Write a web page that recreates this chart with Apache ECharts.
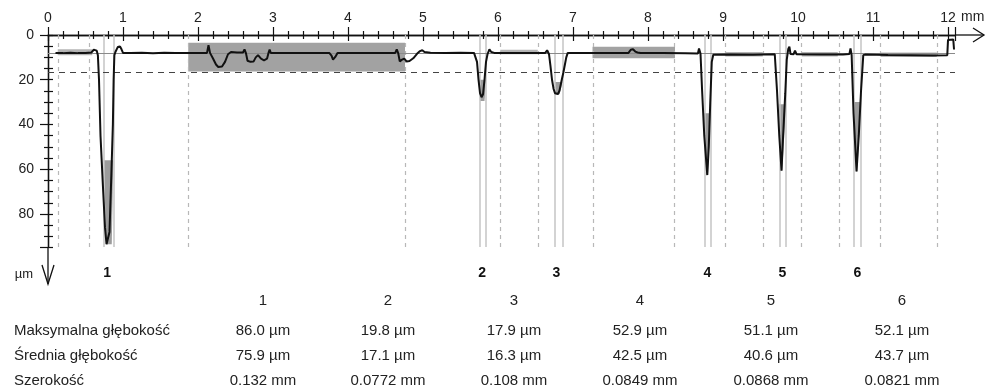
<!DOCTYPE html>
<html>
<head>
<meta charset="utf-8">
<script src="https://cdn.jsdelivr.net/npm/echarts@6/dist/echarts.min.js"></script>
<style>
html,body{margin:0;padding:0;background:#fff;}
#c{width:986px;height:391px;}
</style>
</head>
<body>
<div id="c"></div>
<script>
// ---- data ----
const profile = [
[0.10,8.0],[0.20,8.1],[0.30,7.9],[0.40,8.1],[0.50,8.0],[0.58,7.8],[0.61,6.6],[0.63,6.0],[0.65,7.0],[0.665,9],[0.68,20],[0.70,45],[0.73,66],[0.76,86],[0.78,93.5],[0.80,93.5],[0.82,88],[0.845,62],[0.865,40],[0.875,20],[0.885,9],[0.90,7.5],[0.93,5.4],[0.96,5.1],[0.98,6.4],[1.00,8.0],[1.10,8.1],[1.25,7.9],[1.40,8.2],[1.55,7.9],[1.70,8.1],[1.85,8.0],[2.00,8.1],[2.12,8.0],[2.14,4.6],[2.16,8.0],[2.20,10.5],[2.24,13.2],[2.27,14.3],[2.32,14.1],[2.36,12.0],[2.40,8.6],[2.44,7.6],[2.52,7.8],[2.60,7.8],[2.62,6.4],[2.64,8.2],[2.66,11.5],[2.70,12.0],[2.74,11.9],[2.77,10.0],[2.80,9.0],[2.84,10.6],[2.88,11.3],[2.92,10.6],[2.94,8.0],[2.955,6.5],[2.97,8.0],[3.20,8.0],[3.50,8.1],[3.75,8.0],[3.78,9.2],[3.80,11.0],[3.83,9.8],[3.86,8.0],[4.20,8.1],[4.50,8.1],[4.63,8.0],[4.65,6.4],[4.67,8.2],[4.69,11.8],[4.72,11.0],[4.75,10.6],[4.78,11.8],[4.82,11.6],[4.87,10.4],[4.92,8.4],[4.96,7.2],[4.99,6.8],[5.02,7.6],[5.10,7.9],[5.30,8.0],[5.50,7.9],[5.68,8.0],[5.70,7.6],[5.72,12],[5.74,20],[5.76,26],[5.78,27.8],[5.80,26.5],[5.82,20],[5.84,12],[5.86,8.6],[5.885,6.4],[5.91,7.6],[5.95,8.0],[6.20,8.0],[6.50,8.1],[6.63,8.0],[6.655,6.8],[6.68,8.6],[6.70,14],[6.72,20],[6.74,24],[6.76,26],[6.78,26.8],[6.80,26.4],[6.82,24.8],[6.85,20],[6.87,17],[6.89,13.5],[6.91,10],[6.93,8.0],[6.955,7.3],[6.98,8.0],[7.30,8.0],[7.60,8.1],[7.74,8.0],[7.77,6.6],[7.80,6.4],[7.83,7.4],[7.86,7.8],[7.90,8.0],[8.20,8.1],[8.50,8.2],[8.665,8.3],[8.68,6.0],[8.70,8.4],[8.72,24],[8.75,45],[8.79,62.6],[8.81,50],[8.83,30],[8.85,12],[8.87,8.8],[9.10,8.7],[9.40,8.8],[9.69,8.6],[9.72,25],[9.75,45],[9.78,60.6],[9.80,46],[9.83,26],[9.85,11],[9.87,6.2],[9.885,5.2],[9.90,8.5],[9.94,8.6],[9.96,7.0],[9.98,8.6],[10.30,8.7],[10.60,8.7],[10.685,8.5],[10.70,6.0],[10.715,9.0],[10.74,35],[10.78,61],[10.81,45],[10.84,25],[10.87,9.0],[10.90,8.7],[11.20,8.9],[11.50,9.0],[11.80,9.2],[11.99,9.0],[12.00,2.2],[12.07,2.0],[12.08,6.5]
];
const grooveNames = ['1','2','3','4','5','6'];
const grooveCenters = [0.79, 5.79, 6.78, 8.79, 9.79, 10.79];
const grooveEdges = [0.737, 0.87, 5.75, 5.84, 6.75, 6.86, 8.75, 8.84, 9.75, 9.84, 10.74, 10.84];
const zoneEdges = [0.13, 0.55, 1.87, 4.76, 6.03, 6.53, 7.27, 8.35, 9.03, 9.53, 10.04, 10.55, 11.1, 11.85];
const shadedZones = [[1.87, 3.5, 4.76, 16.3], [7.26, 5.2, 8.36, 10.4]];
const refBands = [[0.13, 6.4, 0.59, 9.0], [6.03, 6.6, 6.53, 8.6], [9.03, 7.6, 9.53, 9.6], [10.05, 7.6, 10.53, 9.6], [11.1, 7.8, 11.85, 9.8]];
const grooveFills = [
  [[0.745, 56], [0.87, 56], [0.85, 93.5], [0.775, 93.5]],
  [[5.74, 20], [5.84, 20], [5.82, 29.5], [5.76, 29.5]],
  [[6.76, 21], [6.86, 21], [6.82, 26.5], [6.77, 26.5]],
  [[8.745, 35], [8.835, 35], [8.80, 62.5], [8.78, 62.5]],
  [[9.745, 31], [9.84, 31], [9.79, 60.5], [9.775, 60.5]],
  [[10.735, 30], [10.84, 30], [10.79, 61], [10.775, 61]]
];
const meanLevel = 8.2;
const thresholdLevel = 16.5;
const xMax = 12.093;
const yMax = 94.75;
const rowLabels = ['Maksymalna głębokość', 'Średnia głębokość', 'Szerokość'];
const maxDepth = [86.0, 19.8, 17.9, 52.9, 51.1, 52.1];
const meanDepth = [75.9, 17.1, 16.3, 42.5, 40.6, 43.7];
const widthMm = ['0.132', '0.0772', '0.108', '0.0849', '0.0868', '0.0821'];

// ---- chart ----
const FONT = "'Liberation Sans', Arial, sans-serif";
const chart = echarts.init(document.getElementById('c'), null, {renderer: 'canvas'});
const axisLineStyle = {color: '#111', width: 1.3};

const option = {
  animation: false,
  backgroundColor: '#fff',
  grid: {left: 48, right: 31, top: 35, bottom: 144, containLabel: false},
  xAxis: [
    {
      type: 'value', position: 'top', min: 0, max: xMax, interval: 1,
      axisLine: {show: true, lineStyle: axisLineStyle},
      axisTick: {show: true, length: 8, lineStyle: {color: '#111', width: 1.2}},
      minorTick: {show: true, splitNumber: 5, length: 4, lineStyle: {color: '#111', width: 1.2}},
      axisLabel: {show: true, margin: 10, fontSize: 14, color: '#222', fontFamily: FONT,
        formatter: v => (Math.abs(v - Math.round(v)) < 1e-6 ? String(Math.round(v)) : '')},
      splitLine: {show: false}, minorSplitLine: {show: false}
    },
    {
      type: 'value', position: 'bottom', min: 0, max: xMax, interval: 1,
      axisLine: {show: true, lineStyle: axisLineStyle},
      axisTick: {show: true, length: 6, lineStyle: {color: '#111', width: 1.2}},
      minorTick: {show: true, splitNumber: 5, length: 4, lineStyle: {color: '#111', width: 1.2}},
      axisLabel: {show: false}, splitLine: {show: false}
    }
  ],
  yAxis: [
    {
      type: 'value', inverse: true, position: 'left', min: 0, max: yMax, interval: 20,
      axisLine: {show: true, lineStyle: axisLineStyle},
      axisTick: {show: true, length: 8, lineStyle: {color: '#111', width: 1.2}},
      minorTick: {show: true, splitNumber: 4, length: 4, lineStyle: {color: '#111', width: 1.2}},
      axisLabel: {show: true, margin: 14, fontSize: 14, color: '#222', fontFamily: FONT,
        formatter: v => (v % 20 === 0 ? String(v) : '')},
      splitLine: {show: false}
    },
    {
      type: 'value', inverse: true, position: 'right', min: 0, max: yMax, interval: 5,
      axisLine: {show: true, lineStyle: axisLineStyle},
      axisTick: {show: true, length: 5, lineStyle: {color: '#111', width: 1.2}},
      axisLabel: {show: false}, splitLine: {show: false}
    }
  ],
  series: [
    {
      name: 'zones', type: 'line', data: [], z: 1,
      markArea: {
        silent: true,
        data: shadedZones.map(r => [{xAxis: r[0], yAxis: r[1], itemStyle: {color: '#a2a2a2'}}, {xAxis: r[2], yAxis: r[3]}])
          .concat(refBands.map(r => [{xAxis: r[0], yAxis: r[1], itemStyle: {color: '#b4b4b4'}}, {xAxis: r[2], yAxis: r[3]}]))
      }
    },
    {
      name: 'zoneEdges', type: 'line', data: [], z: 2,
      markLine: {
        silent: true, symbol: ['none', 'none'], label: {show: false},
        lineStyle: {color: '#b8b8b8', type: [4, 4], width: 1.2},
        data: zoneEdges.map(x => ({xAxis: x}))
      }
    },
    {
      name: 'grooveEdges', type: 'line', data: [], z: 2,
      markLine: {
        silent: true, symbol: ['none', 'none'], label: {show: false},
        lineStyle: {color: '#c4c4c4', type: 'solid', width: 1.5},
        data: grooveEdges.map(x => ({xAxis: x}))
      }
    },
    {
      name: 'fills', type: 'custom', z: 3,
      data: grooveFills.map(p => p[0]),
      renderItem: function (params, api) {
        const pts = grooveFills[params.dataIndex].map(p => api.coord(p));
        return {type: 'polygon', shape: {points: pts}, style: {fill: '#9c9c9c'}};
      }
    },
    {
      name: 'levels', type: 'line', data: [], z: 4,
      markLine: {
        silent: true, symbol: ['none', 'none'], label: {show: false},
        data: [
          {yAxis: meanLevel, lineStyle: {color: '#8a8a8a', type: 'solid', width: 1}},
          {yAxis: thresholdLevel, lineStyle: {color: '#444', type: [6, 5], width: 1.2}}
        ]
      }
    },
    {
      name: 'profile', type: 'line', data: profile, z: 5,
      showSymbol: false, symbol: 'none',
      lineStyle: {color: '#111', width: 2},
      clip: false
    }
  ]
};
chart.setOption(option);

// ---- annotations ----
const g = [];
const txt = (x, y, text, opt) => Object.assign({
  type: 'text', x: x, y: y, silent: true,
  style: Object.assign({text: text, fontSize: 15, fontFamily: FONT, fill: '#222',
    align: 'center', textAlign: 'center', verticalAlign: 'middle', textVerticalAlign: 'middle'}, opt || {})
});

// axis arrows
const x12 = chart.convertToPixel({xAxisIndex: 0}, xMax);
const y0 = chart.convertToPixel({yAxisIndex: 0}, 0);
const yB = chart.convertToPixel({yAxisIndex: 0}, yMax);
const x0 = chart.convertToPixel({xAxisIndex: 0}, 0);
g.push({type: 'polyline', silent: true, shape: {points: [[x12, y0], [984, y0]]}, style: {stroke: '#111', lineWidth: 1.3, fill: null}});
g.push({type: 'polyline', silent: true, shape: {points: [[973, y0 - 7], [984, y0], [973, y0 + 7]]}, style: {stroke: '#111', lineWidth: 1.3, fill: null}});
g.push({type: 'polyline', silent: true, shape: {points: [[x0, yB], [x0, 284]]}, style: {stroke: '#111', lineWidth: 1.3, fill: null}});
g.push({type: 'polyline', silent: true, shape: {points: [[x0 - 6, 265], [x0, 284], [x0 + 6, 265]]}, style: {stroke: '#111', lineWidth: 1.3, fill: null}});
g.push(txt(961, 17, 'mm', {fontSize: 14, align: 'left', textAlign: 'left'}));
g.push(txt(24, 274, 'µm', {fontSize: 13}));

// groove numbers under the plot
grooveCenters.forEach((c, i) => {
  const px = chart.convertToPixel({xAxisIndex: 0}, c);
  g.push(txt(px, 273, grooveNames[i], {fontSize: 14, fontWeight: 'bold', fill: '#111'}));
});

// table
const colX = [263, 388, 514, 640, 771, 902];
const rowY = [331, 356, 381];
grooveNames.forEach((n, i) => g.push(txt(colX[i], 301, n)));
rowLabels.forEach((l, r) => g.push(txt(14, rowY[r], l, {align: 'left', textAlign: 'left'})));
maxDepth.forEach((v, i) => g.push(txt(colX[i], rowY[0], v.toFixed(1) + ' µm')));
meanDepth.forEach((v, i) => g.push(txt(colX[i], rowY[1], v.toFixed(1) + ' µm')));
widthMm.forEach((v, i) => g.push(txt(colX[i], rowY[2], v + ' mm')));

chart.setOption({graphic: {elements: g}});
</script>
</body>
</html>
